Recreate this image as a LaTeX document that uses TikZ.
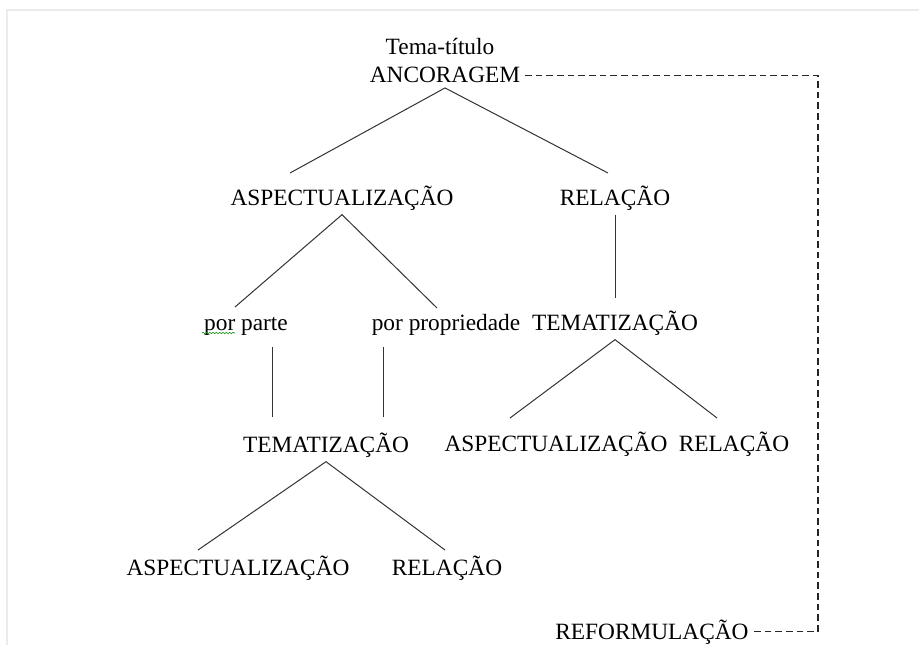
\documentclass[tikz,border=0pt]{standalone}
\usepackage{fontspec}
\setmainfont{Liberation Serif}
\usetikzlibrary{decorations.pathmorphing}

\begin{document}
\begin{tikzpicture}[x=0.75pt, y=-0.75pt,
        every node/.style={font=\fontsize{17.5}{21}\selectfont, anchor=base},
        branch/.style={color=black!80, line width=0.75pt},
        loopline/.style={color=black!85, line width=0.9pt, dash pattern=on 5pt off 3pt}]
        \useasboundingbox (0,0) rectangle (919,645);
        \draw[color=black!8, line width=1.2pt] (7,645) -- (7,10) -- (919,10);
        % words of the tree
        \node (tit) at (440,55) {Tema-título};
        \node (anc) at (445,83) {ANCORAGEM};
        \node (asp1) at (342,205) {ASPECTUALIZAÇÃO};
        \node (rel1) at (615,205) {RELAÇÃO};
        \node (parte) at (246,330) {por parte};
        \node (prop) at (446,330) {por propriedade};
        \node (tem1) at (615,330) {TEMATIZAÇÃO};
        \node (tem2) at (326,452) {TEMATIZAÇÃO};
        \node (asp2) at (556,451) {ASPECTUALIZAÇÃO};
        \node (rel2) at (734,451) {RELAÇÃO};
        \node (asp3) at (238,575) {ASPECTUALIZAÇÃO};
        \node (rel3) at (447,575) {RELAÇÃO};
        \node (ref) at (652,639) {REFORMULAÇÃO};
        % free ends of the branches
        \coordinate (a1) at (290,173);
        \coordinate (a2) at (608,173);
        \coordinate (b1) at (235,307);
        \coordinate (b2) at (437,308);
        \coordinate (d1) at (272,347);
        \coordinate (d2) at (272,417);
        \coordinate (d3) at (383,347);
        \coordinate (d4) at (383,417);
        \coordinate (e1) at (510,418);
        \coordinate (e2) at (717,418);
        \coordinate (f1) at (198,550);
        \coordinate (f2) at (445,550);
        \coordinate (turn) at (818,350);
        % drawing branches
        \draw[branch] (a1) -- (anc.south) -- (a2);
        \draw[branch] (b1) -- (asp1.south) -- (b2);
        \draw[branch, shorten >=6pt] (rel1.south) -- (tem1.north);
        \draw[branch] (d1) -- (d2);
        \draw[branch] (d3) -- (d4);
        \draw[branch] (e1) -- (tem1.south) -- (e2);
        \draw[branch] (f1) -- (tem2.south) -- (f2);
        \draw[loopline] (anc.east) -| (turn) |- (ref.east);
        \draw[color=green!55!black, line width=0.4pt, decorate,
            decoration={snake, amplitude=0.5pt, segment length=2.5pt}] (202,333) -- (235,333);
    \end{tikzpicture}
\end{document}
